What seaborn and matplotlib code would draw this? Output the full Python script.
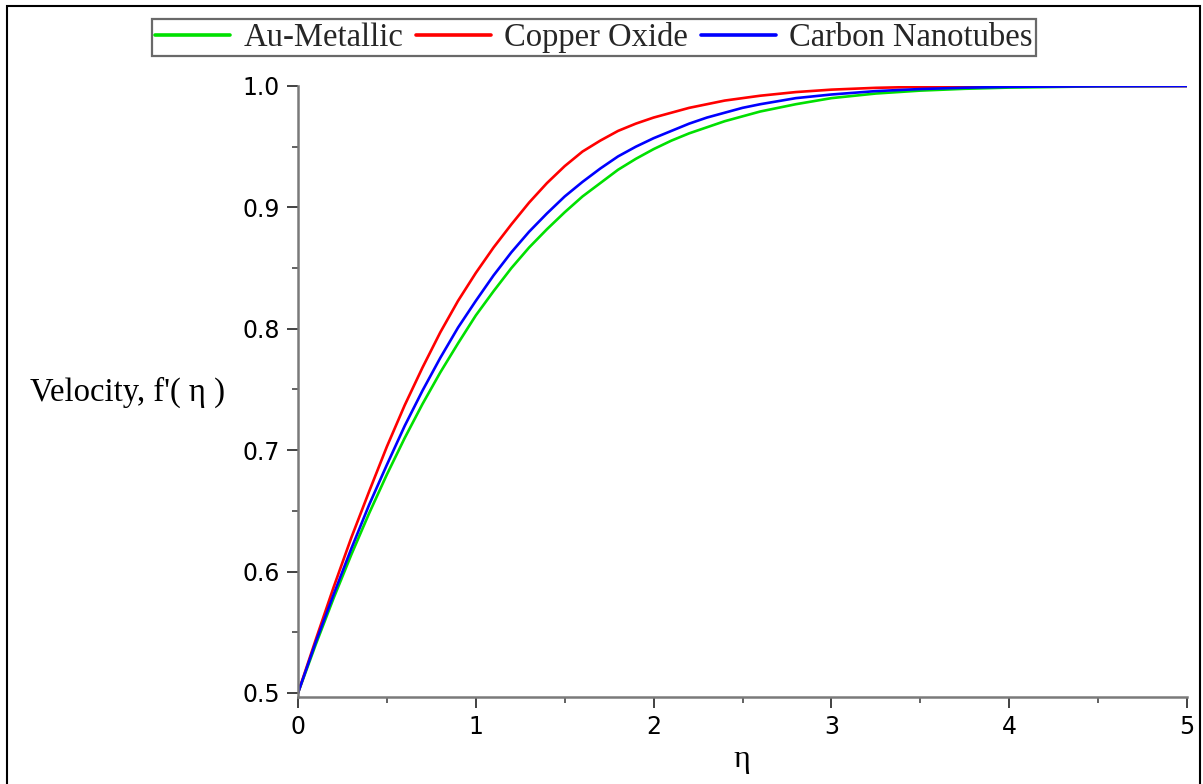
import numpy as np
import pandas as pd
import matplotlib
matplotlib.use("Agg")
import matplotlib.pyplot as plt
import seaborn as sns
from matplotlib.patches import Rectangle
from matplotlib.ticker import MultipleLocator, FixedLocator

# ---- data ----
eta = [0.0, 0.1, 0.2, 0.3, 0.4, 0.5, 0.6, 0.7, 0.8, 0.9, 1.0, 1.1, 1.2, 1.3,
       1.4, 1.5, 1.6, 1.7, 1.8, 1.9, 2.0, 2.1, 2.2, 2.3, 2.4, 2.5, 2.6, 2.8,
       3.0, 3.25, 3.5, 3.75, 4.0, 4.5, 5.0]
au_metallic = [0.500, 0.540, 0.578, 0.614, 0.648, 0.680, 0.710, 0.738, 0.764,
               0.788, 0.811, 0.831, 0.850, 0.867, 0.882, 0.896, 0.909, 0.920,
               0.931, 0.940, 0.948, 0.955, 0.961, 0.966, 0.971, 0.975, 0.979,
               0.985, 0.990, 0.9938, 0.9962, 0.9977, 0.9987, 0.9997, 1.000]
copper_oxide = [0.500, 0.544, 0.587, 0.628, 0.666, 0.703, 0.737, 0.768, 0.797,
                0.823, 0.846, 0.867, 0.886, 0.904, 0.920, 0.934, 0.946, 0.955,
                0.963, 0.969, 0.974, 0.978, 0.982, 0.985, 0.988, 0.990, 0.992,
                0.995, 0.997, 0.9985, 0.9993, 0.9998, 1.000, 1.000, 1.000]
carbon_nanotubes = [0.500, 0.542, 0.581, 0.619, 0.655, 0.688, 0.720, 0.749,
                    0.776, 0.801, 0.823, 0.844, 0.863, 0.880, 0.895, 0.909,
                    0.921, 0.932, 0.942, 0.950, 0.957, 0.963, 0.969, 0.974,
                    0.978, 0.982, 0.985, 0.990, 0.993, 0.9958, 0.9975, 0.9986,
                    0.9993, 0.9998, 1.000]
series_names = ["Au-Metallic", "Copper Oxide", "Carbon Nanotubes"]
series_colors = ["#00e000", "#ff0000", "#0000ff"]
x_ticks = [0, 1, 2, 3, 4, 5]
y_ticks = [0.5, 0.6, 0.7, 0.8, 0.9, 1.0]
y_tick_labels = ["0.5", "0.6", "0.7", "0.8", "0.9", "1.0"]

df = pd.concat([
    pd.DataFrame({"eta": eta, "f": vals, "fluid": name})
    for name, vals in zip(series_names, [au_metallic, copper_oxide, carbon_nanotubes])
], ignore_index=True)

sns.set_theme(style="white")
plt.rcParams["font.family"] = ["DejaVu Sans"]

W, H = 1203, 784
fig = plt.figure(figsize=(W / 100, H / 100), dpi=100)
ax = fig.add_axes([298 / W, 1 - 697 / H, (1187 - 298) / W, (697 - 86) / H])

sns.lineplot(data=df, x="eta", y="f", hue="fluid", hue_order=series_names,
             palette=dict(zip(series_names, series_colors)), linewidth=1.9,
             ax=ax, legend=True, sort=False)

ax.set_xlim(0, 5)
ax.set_ylim(0.5 - 4 / 1214, 1.0)
ax.set_xlabel("")
ax.set_ylabel("")

for s in ["top", "right"]:
    ax.spines[s].set_visible(False)
for s in ["left", "bottom"]:
    ax.spines[s].set_color("#7a7a7a")
    ax.spines[s].set_linewidth(1.8)

ax.xaxis.set_major_locator(FixedLocator(x_ticks))
ax.xaxis.set_minor_locator(MultipleLocator(0.5))
ax.yaxis.set_major_locator(FixedLocator(y_ticks))
ax.set_yticklabels(y_tick_labels)
ax.yaxis.set_minor_locator(MultipleLocator(0.05))
ax.tick_params(axis="both", which="major", direction="out", length=8, width=1.3,
               color="#333333", labelsize=17, labelcolor="black", pad=5)
ax.tick_params(axis="both", which="minor", direction="out", length=4, width=1.3,
               color="#555555")
ax.tick_params(axis="x", which="both", bottom=True)
ax.tick_params(axis="y", which="both", left=True)
ax.grid(False)

serif = ["Liberation Serif", "DejaVu Serif"]
fig.text(30 / W, 1 - 392 / H, "Velocity, f'( η )", ha="left", va="center",
         fontsize=23.5, family=serif, color="black")
fig.text(742 / W, 1 - 760 / H, "η", ha="center", va="center",
         fontsize=23, family=serif, color="black")

handles, labels = ax.get_legend_handles_labels()
ax.get_legend().remove()
for h in handles:
    h.set_linewidth(2.6)
leg = fig.legend(handles, labels, loc="center", bbox_to_anchor=(594 / W, 1 - 37.5 / H),
                 bbox_transform=fig.transFigure, ncol=3, frameon=True,
                 fancybox=False, handlelength=2.3, handletextpad=0.4,
                 columnspacing=0.4, borderpad=0.1,
                 prop={"family": serif, "size": 23.5})
leg.get_frame().set_edgecolor("#444444")
leg.get_frame().set_linewidth(1.6)

fig.patches.append(Rectangle((7 / W, -0.05), (1200 - 7) / W, 1.05 - 6 / H,
                             transform=fig.transFigure, fill=False,
                             edgecolor="black", linewidth=1.5))

fig.savefig("out.png", dpi=100)
